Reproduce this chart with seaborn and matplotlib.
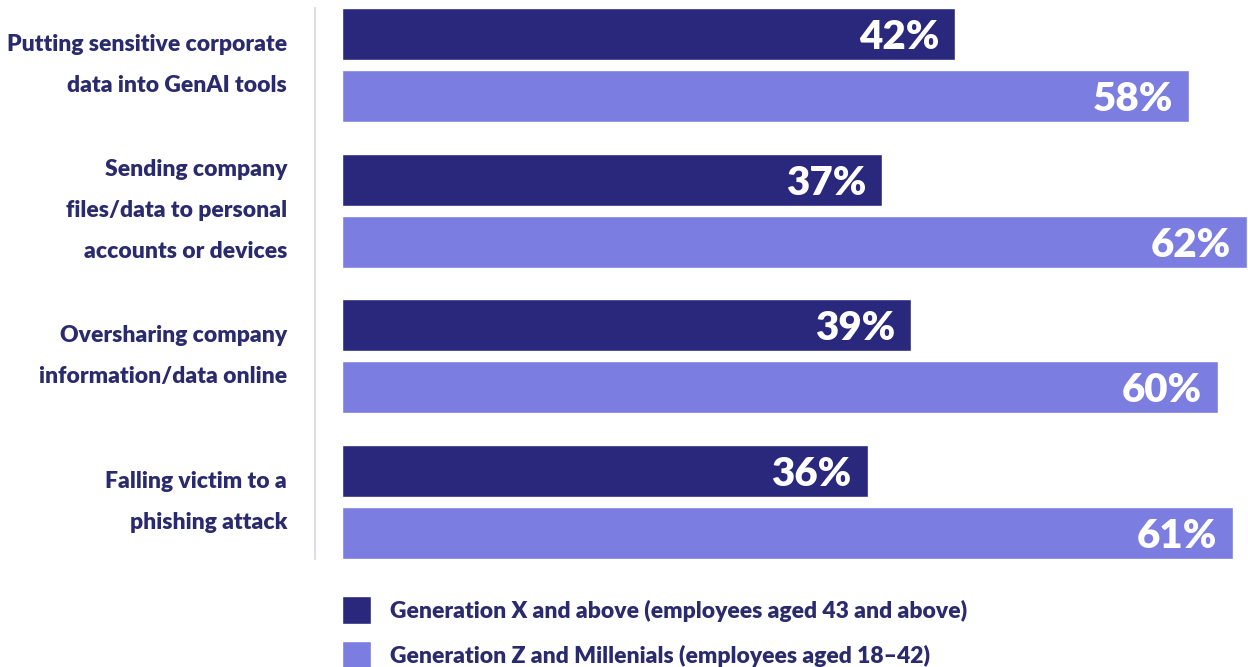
import matplotlib
matplotlib.use("Agg")
import matplotlib.pyplot as plt
import seaborn as sns
import pandas as pd

categories = [
    "Putting sensitive corporate\ndata into GenAI tools",
    "Sending company\nfiles/data to personal\naccounts or devices",
    "Oversharing company\ninformation/data online",
    "Falling victim to a\nphishing attack",
]
series_names = [
    "Generation X and above (employees aged 43 and above)",
    "Generation Z and Millenials (employees aged 18\u201342)",
]
genx_values = [42, 37, 39, 36]
genz_values = [58, 62, 60, 61]

DARK = "#29287d"
LIGHT = "#7b7ee0"
NAVY = "#2a2a6e"

rows = []
for c, v in zip(categories, genx_values):
    rows.append({"category": c, "value": v, "group": series_names[0]})
for c, v in zip(categories, genz_values):
    rows.append({"category": c, "value": v, "group": series_names[1]})
df = pd.DataFrame(rows)

sns.set_style("white")
plt.rcParams["font.family"] = ["Lato", "DejaVu Sans"]

W, H = 1248, 667
fig = plt.figure(figsize=(W / 100, H / 100), dpi=100)
ax = fig.add_axes([315 / W, 1 - 559 / H, (W - 315) / W, (559 - 8) / H])

sns.barplot(
    data=df, x="value", y="category", hue="group", orient="h",
    palette=[DARK, LIGHT], saturation=1, width=0.849, gap=0.161,
    errorbar=None, ax=ax, legend=True,
)

px_per_unit = 14.6
ax.set_xlim(-27 / px_per_unit, (W - 342) / px_per_unit)
ax.set_ylim(3 + 57 / 145.8, -57 / 145.8)

for spine in ["top", "right", "bottom"]:
    ax.spines[spine].set_visible(False)
ax.spines["left"].set_color("#d5d5e0")
ax.spines["left"].set_linewidth(1.2)
ax.set_xticks([])
ax.set_xlabel("")
ax.set_ylabel("")
ax.tick_params(axis="y", length=0, pad=20)
for t in ax.get_yticklabels():
    t.set_fontsize(16.5)
    t.set_fontweight("heavy")
    t.set_color(NAVY)
    t.set_linespacing(2.16)
    t.set_multialignment("right")
    t.set_verticalalignment("center")

for container in ax.containers:
    for patch in container:
        w = patch.get_width()
        cy = patch.get_y() + patch.get_height() / 2
        ax.annotate(f"{w:.0f}%", xy=(w, cy), xytext=(-11.5, 0),
                    textcoords="offset points", ha="right", va="center_baseline",
                    color="white", fontsize=29, fontweight="heavy",
                    annotation_clip=False)

handles, labels = ax.get_legend_handles_labels()
if ax.legend_:
    ax.legend_.remove()
fig.legend(handles, labels, loc="upper left", bbox_to_anchor=(342 / W, 1 - 596 / H),
           frameon=False, handlelength=1.27, handleheight=1.5,
           handletextpad=0.83, labelspacing=0.75, borderpad=0, borderaxespad=0,
           labelcolor=NAVY, prop={"weight": "heavy", "size": 16.5})

fig.savefig("out.png", dpi=100)
